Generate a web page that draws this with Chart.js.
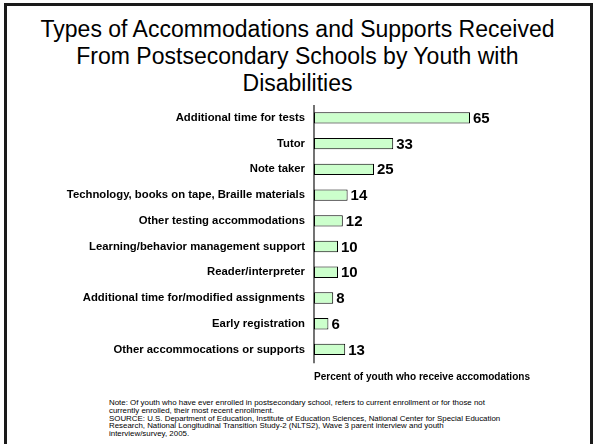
<!DOCTYPE html>
<html>
<head>
<meta charset="utf-8">
<script src="https://cdn.jsdelivr.net/npm/chart.js@4/dist/chart.umd.min.js"></script>
<style>
  html, body { margin: 0; padding: 0; background: #fff; }
  body { width: 595px; height: 444px; position: relative; overflow: hidden; font-family: "Liberation Sans", Arial, sans-serif; }
  #frame { position: absolute; left: 4px; top: 3px; width: 589px; height: 470px; box-sizing: border-box; border: 3px solid #1a1a1a; }
  #title { position: absolute; left: 0; top: 16px; width: 595px; text-align: center; font-size: 23px; line-height: 27.2px; color: #000; }
  #chartBox { position: absolute; left: 0; top: 100px; width: 595px; height: 290px; }
  #note { position: absolute; left: 109px; top: 399px; font-size: 7.9px; line-height: 7.8px; color: #000; white-space: nowrap; }
</style>
</head>
<body>
<div id="frame"></div>
<div id="title">Types of Accommodations and Supports Received<br>From Postsecondary Schools by Youth with<br>Disabilities</div>
<div id="chartBox"><canvas id="chart"></canvas></div>
<div id="note">Note: Of youth who have ever enrolled in postsecondary school, refers to current enrollment or for those not<br>currently enrolled, their most recent enrollment.<br>SOURCE: U.S. Department of Education, Institute of Education Sciences, National Center for Special Education<br>Research, National Longitudinal Transition Study-2 (NLTS2), Wave 3 parent interview and youth<br>interview/survey, 2005.</div>
<script>
const categories = [
    'Additional time for tests',
    'Tutor',
    'Note taker',
    'Technology, books on tape, Braille materials',
    'Other testing accommodations',
    'Learning/behavior management support',
    'Reader/interpreter',
    'Additional time for/modified assignments',
    'Early registration',
    'Other accommocations or supports'
];
const percents = [65, 33, 25, 14, 12, 10, 10, 8, 6, 13];
const axisTitle = 'Percent of youth who receive accomodations';

Chart.defaults.font.family = '"Liberation Sans", Arial, sans-serif';
Chart.defaults.color = '#000';

// vertical axis line + numbers to the right of each bar
const valueLabels = {
    id: 'valueLabels',
    beforeDatasetsDraw(chart) {
        const { ctx, chartArea } = chart;
        ctx.save();
        ctx.strokeStyle = '#444';
        ctx.lineWidth = 1.5;
        ctx.beginPath();
        ctx.moveTo(chartArea.left, chartArea.top);
        ctx.lineTo(chartArea.left, chartArea.bottom + 1);
        ctx.stroke();
        ctx.restore();
    },
    afterDatasetsDraw(chart) {
        const ctx = chart.ctx;
        const meta = chart.getDatasetMeta(0);
        ctx.save();
        ctx.font = 'bold 15px "Liberation Sans", Arial, sans-serif';
        ctx.fillStyle = '#000';
        ctx.textBaseline = 'middle';
        ctx.textAlign = 'left';
        meta.data.forEach((bar, i) => {
            ctx.fillText(String(percents[i]), bar.x + 3, bar.y + 1);
        });
        ctx.restore();
    }
};

new Chart(document.getElementById('chart'), {
    type: 'bar',
    data: {
        labels: categories,
        datasets: [{
            data: percents,
            backgroundColor: '#ccffcc',
            borderColor: '#000',
            borderWidth: 1,
            borderSkipped: false,
            barPercentage: 0.44,
            categoryPercentage: 1
        }]
    },
    options: {
        indexAxis: 'y',
        responsive: true,
        maintainAspectRatio: false,
        animation: false,
        layout: { padding: { left: 0, right: 65, top: 5, bottom: 4 } },
        plugins: {
            legend: { display: false },
            tooltip: { enabled: false }
        },
        scales: {
            x: {
                min: 0,
                max: 90,
                grid: { display: false, drawTicks: false },
                border: { display: false },
                ticks: { display: false },
                title: {
                    display: true,
                    text: axisTitle,
                    font: { size: 11.4, weight: 'bold' },
                    padding: { top: 8, bottom: 2 }
                }
            },
            y: {
                grid: { display: false, drawTicks: false },
                border: { display: false },
                ticks: {
                    font: { size: 11.3, weight: 'bold' },
                    padding: 9,
                    autoSkip: false
                },
                afterFit(scale) {
                    scale.width = 314;
                    scale.paddingTop = 0;
                    scale.paddingBottom = 0;
                }
            }
        }
    },
    plugins: [valueLabels]
});
</script>
</body>
</html>
